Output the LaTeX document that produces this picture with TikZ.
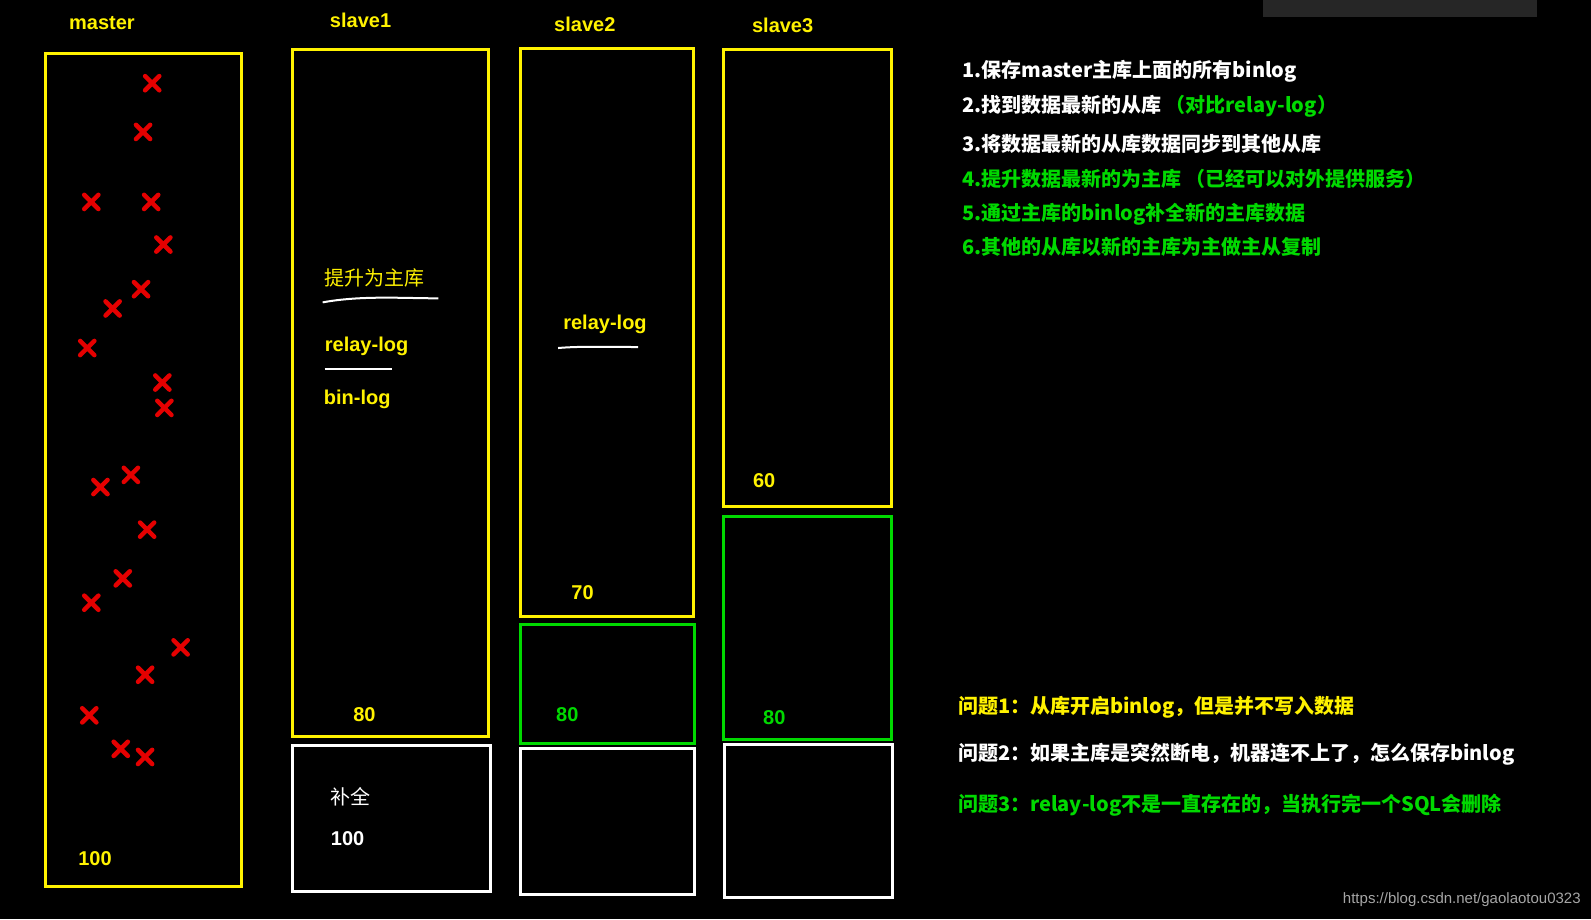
\documentclass[tikz,border=0pt]{standalone}
\usepackage{fontspec}
\setmainfont{Liberation Sans}
\newfontfamily\cjk{Noto Sans CJK SC}
\begin{document}
\begin{tikzpicture}[x=1.0147pt,y=-1.0147pt,
 yb/.style={draw=yellow,line width=3pt},
 gb/.style={draw=green!85!black,line width=3pt},
 wb/.style={draw=white,line width=3pt},
 lbl/.style={font=\bfseries\fontsize{20}{24}\selectfont,anchor=west,inner sep=0},
 cx/.style={draw=red!90!black,line width=4.5pt,line cap=round},
 ul/.style={draw=white,line width=2pt}]
\fill[black] (0,0) rectangle (1568,906);
\useasboundingbox (0,0) rectangle (1568,906);
\fill[gray!30!black] (1245,0) rectangle (1515,17);
% boxes
\node[yb,minimum width=196,minimum height=833,inner sep=0] (m) at (141,463.5) {};
\node[yb,minimum width=196,minimum height=687,inner sep=0] (s1y) at (385,387.5) {};
\node[wb,minimum width=198,minimum height=146,inner sep=0] (s1w) at (386,807) {};
\node[yb,minimum width=173,minimum height=568,inner sep=0] (s2y) at (598.5,328) {};
\node[gb,minimum width=174,minimum height=119,inner sep=0] (s2g) at (599,674.5) {};
\node[wb,minimum width=174,minimum height=146,inner sep=0] (s2w) at (599,810) {};
\node[yb,minimum width=168,minimum height=457,inner sep=0] (s3y) at (796,273.5) {};
\node[gb,minimum width=168,minimum height=223,inner sep=0] (s3g) at (796,618.5) {};
\node[wb,minimum width=168,minimum height=153,inner sep=0] (s3w) at (797,809.5) {};
% titles
\node[lbl,text=yellow] (t0) at (68,23) {master};
\node[lbl,text=yellow] (t1) at (325,20) {slave1};
\node[lbl,text=yellow] (t2) at (546,24) {slave2};
\node[lbl,text=yellow] (t3) at (741,25) {slave3};
% inner labels
\node[lbl,text=yellow] (n100) at (77,846) {100};
\node[lbl,text=yellow] (n80a) at (348,704) {80};
\node[lbl,text=yellow,font=\cjk\fontsize{20}{24}\selectfont] (tsz) at (320,274) {提升为主库};
\node[lbl,text=yellow] (rl1) at (320,341) {relay-log};
\node[lbl,text=yellow] (bl1) at (319,394) {bin-log};
\node[lbl,text=white,font=\cjk\fontsize{20}{24}\selectfont] (bq) at (326,785) {补全};
\node[lbl,text=white] (n100b) at (326,826) {100};
\node[lbl,text=yellow] (rl2) at (555,320) {relay-log};
\node[lbl,text=yellow] (n70) at (563,584) {70};
\node[lbl,text=green!85!black] (n80b) at (548,704) {80};
\node[lbl,text=yellow] (n60) at (742,474) {60};
\node[lbl,text=green!85!black] (n80c) at (752,707) {80};
\draw[ul] (318,298) .. controls (356,291) and (396,294) .. (432,294);
\draw[ul] (320,364) -- (386,364);
\draw[ul] (550,343) .. controls (572,341) and (602,342) .. (629,342);
% red crosses
\foreach \x/\y in {150/82,141/130,90/199,149/199,161/241,139/285,111/304,86/343,160/377,162/402,99/480,129/468,145/522,121/570,90/594,178/638,143/665,88/705,119/738,143/746}{
 \draw[cx] (\x-7,\y-7) -- (\x+7,\y+7) (\x-7,\y+7) -- (\x+7,\y-7);}
% right text
\begin{scope}[every node/.style={lbl,font=\bfseries\cjk\fontsize{20}{24}\selectfont}]
\node[text=white] (l1) at (948,70) {1.保存master主库上面的所有binlog};
\node[text=white] (l2) at (948,105) {2.找到数据最新的从库 \textcolor{green!85!black}{（对比relay-log）}};
\node[text=white] (l3) at (948,142) {3.将数据最新的从库数据同步到其他从库};
\node[text=green!85!black] (l4) at (948,176) {4.提升数据最新的为主库 （已经可以对外提供服务）};
\node[text=green!85!black] (l5) at (948,211) {5.通过主库的binlog补全新的主库数据};
\node[text=green!85!black] (l6) at (948,243) {6.其他的从库以新的主库为主做主从复制};
\node[text=yellow] (q1) at (944,697) {问题1：从库开启binlog，但是并不写入数据};
\node[text=white] (q2) at (944,743) {问题2：如果主库是突然断电，机器连不上了，怎么保存binlog};
\node[text=green!85!black] (q3) at (944,794) {问题3：relay-log不是一直存在的，当执行完一个SQL会删除};
\end{scope}
\node[anchor=east,inner sep=0,text=gray!70,font=\fontsize{15}{18}\selectfont] (url) at (1558,887) {https://blog.csdn.net/gaolaotou0323};
\end{tikzpicture}
\end{document}
